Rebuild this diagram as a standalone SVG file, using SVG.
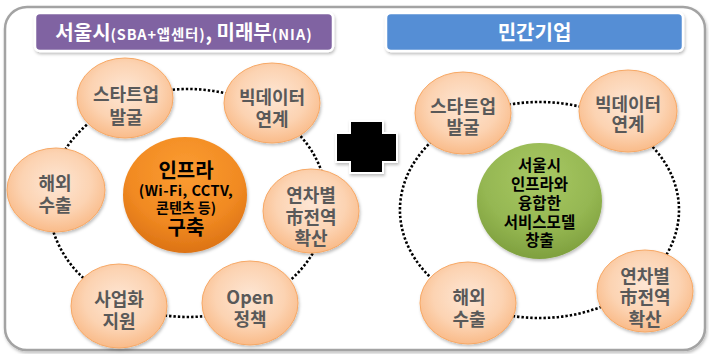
<svg xmlns="http://www.w3.org/2000/svg" width="709" height="354" viewBox="0 0 709 354">
<defs>
<style>
.t{font-family:"Noto Sans CJK KR","Noto Sans",sans-serif;font-weight:700;text-anchor:middle}
.nt{font-size:18px;fill:#595959}
.peach{fill:url(#gPeach);stroke:#F7A865;stroke-width:1}
.dot{fill:none;stroke:#000;stroke-width:2.6;stroke-dasharray:2.4 2}
.hdr{stroke:#fff;stroke-width:2.5}
</style>
<radialGradient id="gPeach" cx="50%" cy="42%" r="60%">
<stop offset="0" stop-color="#FDE6D4"/>
<stop offset="0.6" stop-color="#FCD3B2"/>
<stop offset="1" stop-color="#F9B986"/>
</radialGradient>
<radialGradient id="gOrange" cx="50%" cy="30%" r="75%">
<stop offset="0" stop-color="#FB9C32"/>
<stop offset="0.6" stop-color="#F18A22"/>
<stop offset="1" stop-color="#D86E12"/>
</radialGradient>
<radialGradient id="gGreen" cx="50%" cy="30%" r="75%">
<stop offset="0" stop-color="#A8C864"/>
<stop offset="0.6" stop-color="#95B752"/>
<stop offset="1" stop-color="#7A9B3A"/>
</radialGradient>
<filter id="sh" x="-20%" y="-20%" width="140%" height="150%">
<feDropShadow dx="1" dy="2" stdDeviation="1.5" flood-color="#000" flood-opacity="0.25"/>
</filter>
</defs>

<rect x="5" y="7" width="700" height="343" rx="22" fill="#fff" stroke="#A3A3A3" stroke-width="2.5" filter="url(#sh)"/>

<g id="header-left">
<rect class="hdr" x="35" y="13" width="298" height="38" rx="5" fill="#8064A2" filter="url(#sh)"/>
<text class="t" x="184" y="39.5" fill="#fff" font-size="20"><tspan>서울시</tspan><tspan font-size="14.5" letter-spacing="0.8">(SBA+앱센터)</tspan><tspan>, 미래부</tspan><tspan font-size="14.5" letter-spacing="1">(NIA)</tspan></text>
</g>

<g id="header-right">
<rect class="hdr" x="386" y="13" width="297" height="38" rx="5" fill="#558ED5" filter="url(#sh)"/>
<text class="t" x="534.5" y="40" fill="#fff" font-size="20">민간기업</text>
</g>

<g id="connectors">
<path class="dot" d="M163.9,90.7 A139,114 0 0,1 230.9,94.6"/>
<path class="dot" d="M294.5,129.7 A139,114 0 0,1 326.5,193.1"/>
<path class="dot" d="M316.9,245.7 A139,114 0 0,1 277.4,290.3"/>
<path class="dot" d="M224,313.1 A139,114 0 0,1 140.5,310.1"/>
<path class="dot" d="M108.2,296.4 A139,114 0 0,1 51.1,222.8"/>
<path class="dot" d="M53.7,173.5 A139,114 0 0,1 98.6,115.7"/>
<path class="dot" d="M487.2,109.9 A139.5,108 0 0,1 605,114.6"/>
<path class="dot" d="M646.4,140.6 A139.5,108 0 0,1 660.3,264"/>
<path class="dot" d="M625.4,295.1 A139.5,108 0 0,1 491.8,311.5"/>
<path class="dot" d="M449.8,292.7 A139.5,108 0 0,1 459.4,121.5"/>
</g>

<g id="plus">
<path d="M350,121 H383 V133 H397 V162 H383 V173 H350 V162 H336 V133 H350 Z" fill="#000" stroke="#fff" stroke-width="2" filter="url(#sh)"/>
</g>

<g id="L-startup">
<ellipse class="peach" cx="125" cy="98" rx="48" ry="40" filter="url(#sh)"/>
<text class="t nt" x="126" y="101"><tspan x="126">스타트업</tspan><tspan x="126" y="123.5">발굴</tspan></text>
</g>
<g id="L-bigdata">
<ellipse class="peach" cx="272" cy="103" rx="48" ry="40" filter="url(#sh)"/>
<text class="t nt" x="272" y="104"><tspan x="272">빅데이터</tspan><tspan x="272" y="126">연계</tspan></text>
</g>
<g id="L-export">
<ellipse class="peach" cx="56" cy="190" rx="49" ry="42" filter="url(#sh)"/>
<text class="t nt" x="55" y="190"><tspan x="55">해외</tspan><tspan x="55" y="212">수출</tspan></text>
</g>
<g id="L-expand">
<ellipse class="peach" cx="311" cy="211" rx="48" ry="42" filter="url(#sh)"/>
<text class="t nt" x="311" y="202"><tspan x="311">연차별</tspan><tspan x="311" y="224">市전역</tspan><tspan x="311" y="245">확산</tspan></text>
</g>
<g id="L-business">
<ellipse class="peach" cx="119" cy="306" rx="48" ry="42" filter="url(#sh)"/>
<text class="t nt" x="119" y="306"><tspan x="119">사업화</tspan><tspan x="119" y="328">지원</tspan></text>
</g>
<g id="L-open">
<ellipse class="peach" cx="250" cy="303" rx="48" ry="42" filter="url(#sh)"/>
<text class="t nt" x="250" y="304"><tspan x="250">Open</tspan><tspan x="250" y="326">정책</tspan></text>
</g>
<g id="L-center">
<ellipse cx="185" cy="195" rx="62" ry="58" fill="url(#gOrange)" filter="url(#sh)"/>
<text class="t" x="186" y="177.5" font-size="20" fill="#000">인프라</text>
<text class="t" x="186" y="195.5" font-size="14.5" letter-spacing="0.4" fill="#000">(Wi-Fi, CCTV,</text>
<text class="t" x="186" y="213" font-size="14" fill="#000">콘텐츠 등)</text>
<text class="t" x="186" y="234.5" font-size="20" fill="#000">구축</text>
</g>

<g id="R-startup">
<ellipse class="peach" cx="463" cy="113" rx="48" ry="41" filter="url(#sh)"/>
<text class="t nt" x="463" y="113"><tspan x="463">스타트업</tspan><tspan x="463" y="134">발굴</tspan></text>
</g>
<g id="R-bigdata">
<ellipse class="peach" cx="628" cy="111" rx="49" ry="41" filter="url(#sh)"/>
<text class="t nt" x="628" y="111"><tspan x="628">빅데이터</tspan><tspan x="628" y="131">연계</tspan></text>
</g>
<g id="R-export">
<ellipse class="peach" cx="468" cy="303" rx="48" ry="41" filter="url(#sh)"/>
<text class="t nt" x="469" y="304"><tspan x="469">해외</tspan><tspan x="469" y="326">수출</tspan></text>
</g>
<g id="R-expand">
<ellipse class="peach" cx="645" cy="291" rx="48" ry="41" filter="url(#sh)"/>
<text class="t nt" x="645" y="283"><tspan x="645">연차별</tspan><tspan x="645" y="304">市전역</tspan><tspan x="645" y="326">확산</tspan></text>
</g>
<g id="R-center">
<ellipse cx="539.5" cy="201" rx="62.5" ry="58" fill="url(#gGreen)" filter="url(#sh)"/>
<text class="t" font-size="15.5" fill="#000" x="539.5" y="171"><tspan x="539.5">서울시</tspan><tspan x="539.5" y="190">인프라와</tspan><tspan x="539.5" y="208.5">융합한</tspan><tspan x="539.5" y="228">서비스모델</tspan><tspan x="539.5" y="246">창출</tspan></text>
</g>
</svg>
